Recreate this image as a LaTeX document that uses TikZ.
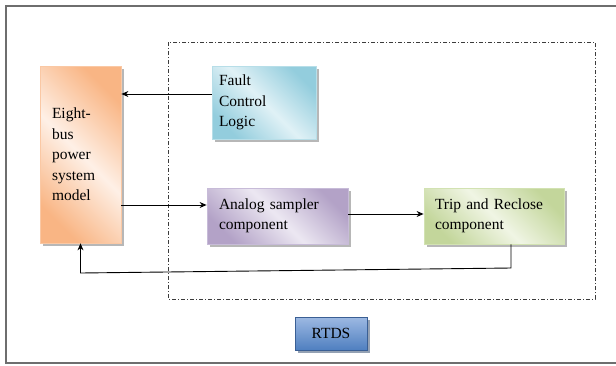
\documentclass[tikz,border=0pt]{standalone}
\usepackage{fontspec}
\setmainfont{Liberation Serif}
\usepackage{xcolor}
\usepackage{tikz}
\usetikzlibrary{arrows.meta,shadows,calc}
\definecolor{framegray}{HTML}{6E6E6E}
\definecolor{dashgray}{HTML}{3C3C3C}
\definecolor{busdark}{HTML}{F9B584}
\definecolor{buslight}{HTML}{FEF0E6}
\definecolor{busline}{HTML}{FAC8A4}
\definecolor{fcldark}{HTML}{93CDDD}
\definecolor{fcllight}{HTML}{E0F1F6}
\definecolor{fclline}{HTML}{B7DEE8}
\definecolor{adcdark}{HTML}{B3A2C7}
\definecolor{adclight}{HTML}{ECE7F2}
\definecolor{adcline}{HTML}{C7BBD8}
\definecolor{tripdark}{HTML}{C3D69B}
\definecolor{triplight}{HTML}{F0F5E4}
\definecolor{tripline}{HTML}{D2E2B2}
\definecolor{rtdstop}{HTML}{9DB9E2}
\definecolor{rtdsbot}{HTML}{4F7FC0}
\definecolor{rtdsline}{HTML}{3A5F94}
\colorlet{boxdark}{busdark}
\colorlet{boxlight}{buslight}
\pgfdeclarehorizontalshading[boxdark,boxlight]{diagband}{100bp}{%
  color(0bp)=(boxdark); color(25bp)=(boxdark); color(50bp)=(boxlight);
  color(75bp)=(boxdark); color(100bp)=(boxdark)}
\newcommand\boxfont{\fontsize{15.5}{20.5}\selectfont}
\tikzset{
  boxcols/.code 2 args={\colorlet{boxdark}{#1}\colorlet{boxlight}{#2}},
  blk/.style={draw, line width=0.8pt, align=left, inner xsep=11pt, inner ysep=0pt,
    font=\boxfont, shading=diagband, shading angle=45,
    drop shadow={shadow xshift=3pt, shadow yshift=-3pt, fill=black!40, opacity=0.7}},
  link/.style={-{Stealth[length=7pt,width=6pt]}, line width=0.9pt},
}

\begin{document}
\begin{tikzpicture}[x=1pt,y=-1pt]
  \useasboundingbox (0,0) rectangle (616,365);
  \draw[framegray, line width=2pt] (616,6) -- (6,6) -- (6,363) -- (616,363);
  \draw[dashgray, line width=0.8pt, dash pattern=on 4pt off 2pt on 1pt off 2pt]
    (168,42) rectangle (595,299);

  \node[blk, boxcols={busdark}{buslight}, draw=busline, inner xsep=12pt,
    text width=57pt, minimum height=177pt] (bus) at (80.5,154.5)
    {Eight-\\bus\\power\\system\\model};
  \node[blk, boxcols={fcldark}{fcllight}, draw=fclline, inner xsep=7pt,
    text width=90pt, minimum height=73pt] (fcl) at (264,102.5)
    {Fault\\Control\\Logic};
  \node[blk, boxcols={adcdark}{adclight}, draw=adcline, inner xsep=12pt,
    text width=117pt, minimum height=56pt] (adc) at (277.5,216)
    {Analog sampler\\component};
  \node[blk, boxcols={tripdark}{triplight}, draw=tripline,
    text width=118pt, minimum height=56pt] (trip) at (494,216)
    {Trip and Reclose\\component};
  \node[draw=rtdsline, line width=0.8pt, font=\boxfont, top color=rtdstop,
    bottom color=rtdsbot, minimum width=72pt, minimum height=33pt,
    drop shadow={shadow xshift=3pt, shadow yshift=-3pt, fill=rtdsline!70!black}]
    (rtds) at (331,333.5) {RTDS};

  \draw[link] ([yshift=8.5pt]fcl.west) -- ([yshift=8.5pt]fcl.west -| bus.east);
  \draw[link] ([yshift=11pt]adc.west -| bus.east) -- ([yshift=11pt]adc.west);
  \draw[link] ([yshift=2pt]adc.east) -- ([yshift=2pt]trip.west);
  \coordinate (fbR) at (511,268);
  \coordinate (fbL) at (80.5,273);
  \draw[link] (trip.south -| fbR) -- (fbR) -- (fbL) -- (fbL |- bus.south);
\end{tikzpicture}
\end{document}
